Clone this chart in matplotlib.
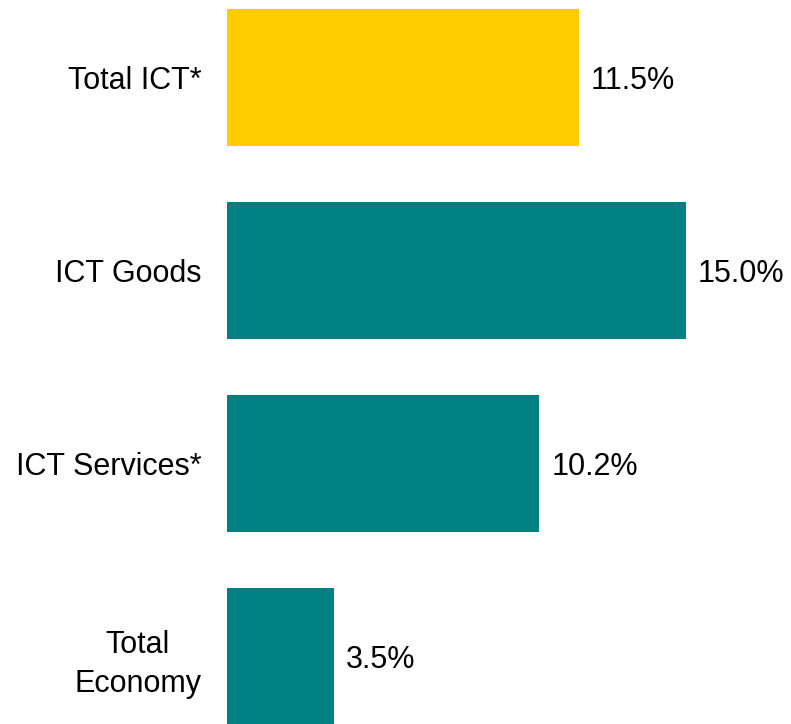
import matplotlib.pyplot as plt

categories = ["Total ICT*", "ICT Goods", "ICT Services*", "Total\nEconomy"]
values = [11.5, 15.0, 10.2, 3.5]
colors = ["#FFCC00", "#008080", "#008080", "#008080"]

plt.rcParams['font.family'] = ['Liberation Sans', 'DejaVu Sans']

fig = plt.figure(figsize=(7.91, 7.24), dpi=100)
ax = fig.add_axes([227 / 791, 0, 551 / 791, 1])

y = range(len(categories))
bars = ax.barh(y, values, height=0.71, color=colors)
texts = ax.bar_label(bars, labels=[f"{v:.1f}%" for v in values], padding=8.6,
                     fontsize=22)
for t in texts:
    t.set_verticalalignment('center_baseline')

ax.set_yticks(list(y))
ax.set_yticklabels(categories, fontsize=22, multialignment='center',
                   linespacing=1.4)
ax.tick_params(axis='y', length=0, pad=18.5)
ax.set_xticks([])
ax.set_xlim(0, 18)
ax.set_ylim(3.35, -0.40)
for s in ax.spines.values():
    s.set_visible(False)

fig.savefig("out.png", dpi=100)
